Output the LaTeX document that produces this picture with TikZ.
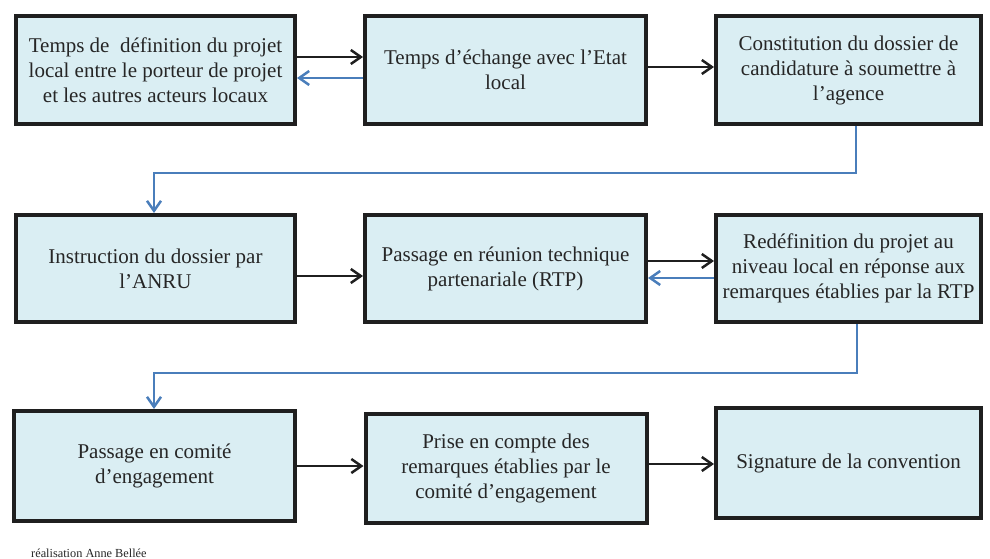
\documentclass[tikz,border=0pt]{standalone}
\usepackage{fontspec}
\setmainfont{Liberation Serif}
\usetikzlibrary{arrows.meta}
\definecolor{boxfill}{HTML}{DAEEF3}
\definecolor{txt}{HTML}{262626}
\definecolor{blueline}{HTML}{4A7EBB}
\tikzset{
  stepbox/.style={draw=black!88, line width=4pt, fill=boxfill, rectangle, align=center,
    text=txt, font=\fontsize{21}{25}\selectfont, inner sep=0pt},
  blk/.style={draw=black!88, line width=2.3pt, -{Straight Barb[length=10pt,width=14pt,line width=2.5pt]}},
  blu/.style={draw=blueline, line width=2.3pt, -{Straight Barb[length=10pt,width=14pt,line width=2.5pt]}},
  bluconn/.style={draw=blueline, line width=1.6pt, -{Straight Barb[length=10pt,width=14pt,line width=2.5pt]}},
}
\begin{document}
\begin{tikzpicture}[x=1pt,y=-1pt]
\useasboundingbox (0,0) rectangle (990,559);
% row 1
\node[stepbox, minimum width=279pt, minimum height=108pt] (b1) at (155.5,70)
  {Temps de\ \ définition du projet\\local entre le porteur de projet\\et les autres acteurs locaux};
\node[stepbox, minimum width=281pt, minimum height=108pt] (b2) at (505.5,70)
  {Temps d’échange avec l’Etat\\local};
\node[stepbox, minimum width=265pt, minimum height=108pt] (b3) at (848.5,70)
  {Constitution du dossier de\\candidature à soumettre à\\l’agence};
% row 2
\node[stepbox, minimum width=279pt, minimum height=107pt] (b4) at (155.5,268.5)
  {Instruction du dossier par\\l’ANRU};
\node[stepbox, minimum width=281pt, minimum height=107pt] (b5) at (505.5,268.5)
  {Passage en réunion technique\\partenariale (RTP)};
\node[stepbox, minimum width=265pt, minimum height=107pt] (b6) at (848.5,268.5)
  {Redéfinition du projet au\\niveau local en réponse aux\\remarques établies par la RTP};
% row 3
\node[stepbox, minimum width=281pt, minimum height=110pt] (b7) at (154.5,466)
  {Passage en comité\\d’engagement};
\node[stepbox, minimum width=281pt, minimum height=109pt] (b8) at (506,468.5)
  {Prise en compte des\\remarques établies par le\\comité d’engagement};
\node[stepbox, minimum width=265pt, minimum height=110pt] (b9) at (848.5,463)
  {Signature de la convention};
% horizontal arrows
\coordinate (h1) at (0,57);
\coordinate (h2) at (0,78);
\coordinate (h3) at (0,67);
\coordinate (h4) at (0,276);
\coordinate (h5) at (0,261);
\coordinate (h6) at (0,278);
\coordinate (h7) at (0,466);
\coordinate (h8) at (0,464);
\draw[blk] (b1.east |- h1) -- (b2.west |- h1);
\draw[blu] (b2.west |- h2) -- (b1.east |- h2);
\draw[blk] (b2.east |- h3) -- (b3.west |- h3);
\draw[blk] (b4.east |- h4) -- (b5.west |- h4);
\draw[blk] (b5.east |- h5) -- (b6.west |- h5);
\draw[blu] (b6.west |- h6) -- (b5.east |- h6);
\draw[blk] (b7.east |- h7) -- (b8.west |- h7);
\draw[blk] (b8.east |- h8) -- (b9.west |- h8);
% blue elbow connectors
\coordinate (c1) at (856,173);
\coordinate (c2) at (154,173);
\draw[bluconn] (b3.south -| c1) -- (c1) -- (c2) -- (b4.north -| c2);
\coordinate (c3) at (857,373);
\coordinate (c4) at (154,373);
\draw[bluconn] (b6.south -| c3) -- (c3) -- (c4) -- (b7.north -| c4);
% caption
\node[anchor=base west, inner sep=0pt, text=txt, font=\fontsize{12.3}{14}\selectfont] (cap) at (31,557) {réalisation Anne Bellée};
\end{tikzpicture}
\end{document}
